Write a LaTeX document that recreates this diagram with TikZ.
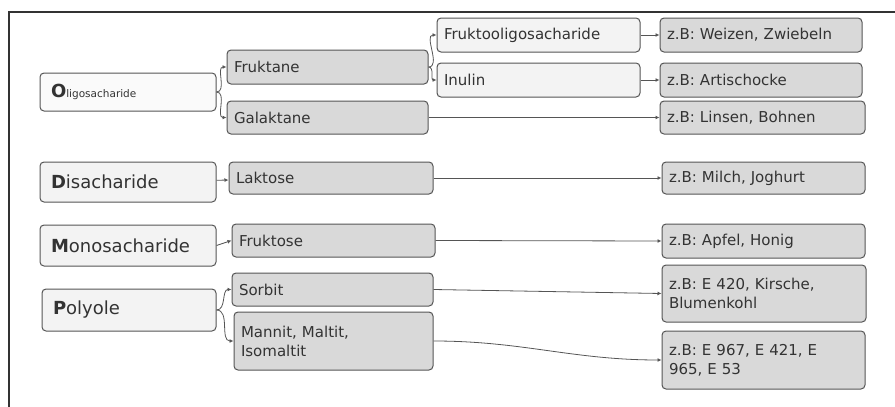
\documentclass[tikz,border=0pt]{standalone}
\usepackage{fontspec}
\setmainfont{DejaVu Sans}
\usetikzlibrary{arrows.meta}
\definecolor{boxgrey}{HTML}{D9D9D9}
\definecolor{boxlight}{HTML}{F3F3F3}
\definecolor{rim}{HTML}{555555}
\definecolor{ink}{HTML}{333333}

\begin{document}
\begin{tikzpicture}[x=1pt,y=-1pt,
  item/.style={draw=rim,line width=1pt,rounded corners=4pt,fill=boxgrey,text=ink,
    font=\fontsize{15}{19}\selectfont,align=left,inner xsep=7pt},
  light/.style={item,fill=boxlight},
  group/.style={item,fill=boxlight,font=\fontsize{18}{20}\selectfont,inner xsep=11pt},
  link/.style={draw=rim,line width=0.8pt,-{Latex[length=4pt,width=4pt]}}]
\useasboundingbox (0,0) rectangle (895,407);
\draw[line width=1.3pt,black!80] (9,407) -- (9,12) -- (895,12);
% linke Spalte
\node[group,fill=white!60!boxlight,text width=154pt,minimum height=38pt] (oligo) at (128,92)
  {\fontsize{18}{20}\selectfont\textbf{O}\fontsize{10.5}{11}\selectfont ligosacharide};
\node[group,text width=154pt,minimum height=40pt] (disa) at (128,182) {\textbf{D}isacharide};
\node[group,text width=154pt,minimum height=41pt] (mono) at (128,245.5) {\textbf{M}onosacharide};
\node[group,text width=152pt,minimum height=42pt] (poly) at (129,310) {\textbf{P}olyole};
% mittlere Spalte
\node[item,text width=187pt,minimum height=34pt] (frukt) at (327.5,67) {Fruktane};
\node[item,text width=187pt,minimum height=33pt] (galak) at (327.5,117.5) {Galaktane};
\node[item,text width=190pt,minimum height=32pt] (lakt) at (331,178) {Laktose};
\node[item,text width=189pt,minimum height=33pt] (fruk) at (333.5,240.5) {Fruktose};
\node[item,text width=187pt,minimum height=33pt] (sorb) at (332.5,289.5) {Sorbit};
\node[item,text width=185pt,minimum height=58pt] (mann) at (333.5,341) {Mannit, Maltit,\\Isomaltit};
\node[light,text width=189pt,minimum height=34pt] (fos) at (538.5,35) {Fruktooligosacharide};
\node[light,text width=189pt,minimum height=34pt] (inul) at (538.5,80) {Inulin};
% Beispiele
\node[item,text width=188pt,minimum height=34pt] (bsp1) at (761,35) {z.B: Weizen, Zwiebeln};
\node[item,text width=188pt,minimum height=34pt] (bsp2) at (761,80) {z.B: Artischocke};
\node[item,text width=191pt,minimum height=33pt] (bsp3) at (762.5,117.5) {z.B: Linsen, Bohnen};
\node[item,text width=189pt,minimum height=32pt] (bsp4) at (763.5,178) {z.B: Milch, Joghurt};
\node[item,text width=189pt,minimum height=34pt] (bsp5) at (763.5,241) {z.B: Apfel, Honig};
\node[item,text width=190pt,minimum height=57pt] (bsp6) at (764,293.5) {z.B: E 420, Kirsche,\\Blumenkohl};
\node[item,text width=189pt,minimum height=58pt] (bsp7) at (763.5,360) {z.B: E 967, E 421, E\\965, E 53};
% Verbindungen
\draw[link] (oligo.east) to[out=0,in=180] (frukt.west);
\draw[link] (oligo.east) to[out=0,in=180] (galak.west);
\draw[link] (frukt.east) to[out=0,in=180] (fos.west);
\draw[link] (frukt.east) to[out=0,in=180] (inul.west);
\draw[link] (fos) -- (bsp1);
\draw[link] (inul) -- (bsp2);
\draw[link] (galak) -- (bsp3);
\draw[link] (disa) -- (lakt);
\draw[link] (lakt) -- (bsp4);
\draw[link] (mono.east) -- (fruk.west);
\draw[link] (fruk.east) -- (bsp5.west);
\draw[link] (poly.east) to[out=0,in=180] (sorb.west);
\draw[link] (poly.east) to[out=0,in=180] (mann.west);
\draw[link] (sorb.east) -- (bsp6.west);
\draw[link] (mann.east) to[out=0,in=180] (bsp7.west);
\end{tikzpicture}
\end{document}
